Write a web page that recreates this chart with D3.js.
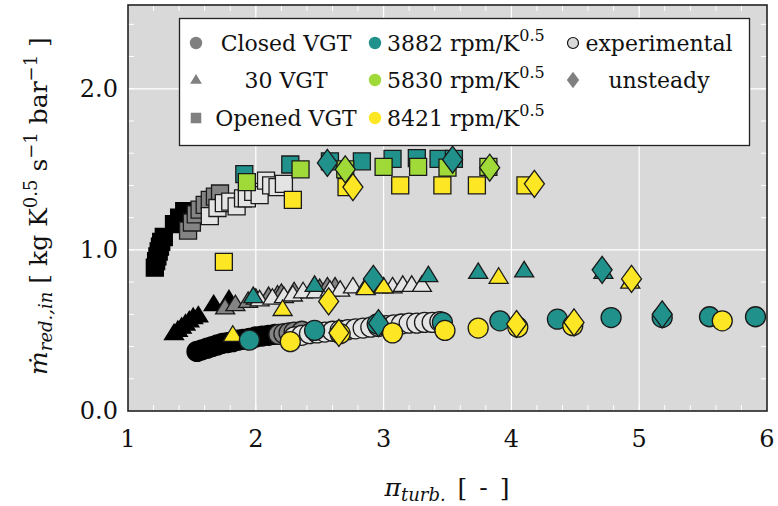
<!DOCTYPE html>
<html>
<head>
<meta charset="utf-8">
<script src="https://cdn.jsdelivr.net/npm/d3@7"></script>
<style>
  html, body { margin: 0; padding: 0; background: #fff; }
  svg { display: block; }
  text { font-family: "DejaVu Serif", "Liberation Serif", serif; fill: #111; }
</style>
</head>
<body>
<svg id="chart" width="778" height="506"></svg>
<script>
// ---- Axis ticks ----
const xTicks = [1, 2, 3, 4, 5, 6];
const yTicks = [0.0, 1.0, 2.0];
const yTickLabels = ["0.0", "1.0", "2.0"];

// ---- Experimental data, grey scale runs (pi_turb, m_red) ----
const closedBlack = [[1.54,0.37],[1.58,0.38],[1.62,0.39],[1.66,0.40],[1.70,0.41],[1.74,0.42],[1.78,0.425],[1.82,0.43],[1.86,0.44],[1.90,0.445],[1.95,0.45],[2.00,0.46],[2.05,0.465],[2.10,0.47],[2.15,0.475]];
const closedGrey = [[2.18,0.475],[2.22,0.48],[2.26,0.485],[2.30,0.49],[2.36,0.495]];
const closedLight = [[2.30,0.46],[2.36,0.47],[2.42,0.48],[2.48,0.485],[2.54,0.49],[2.60,0.495],[2.66,0.50],[2.72,0.505],[2.78,0.51],[2.84,0.515],[2.90,0.52],[2.96,0.525],[3.02,0.53],[3.08,0.535],[3.14,0.54],[3.20,0.545],[3.26,0.545],[3.32,0.55],[3.38,0.55],[3.44,0.555]];

const midBlack = [[1.36,0.48],[1.39,0.50],[1.42,0.52],[1.45,0.54],[1.48,0.56],[1.51,0.58],[1.55,0.59],[1.67,0.66],[1.79,0.69]];
const midGrey = [[1.76,0.64],[1.84,0.66],[1.94,0.68],[2.00,0.70],[2.10,0.71],[2.17,0.72],[2.20,0.73],[2.30,0.74],[2.50,0.76],[2.56,0.77],[2.62,0.77]];
const midLight = [[2.03,0.69],[2.13,0.70],[2.22,0.71],[2.29,0.72],[2.37,0.74],[2.47,0.74],[2.58,0.75],[2.66,0.75],[2.76,0.77],[2.86,0.77],[2.96,0.77],[3.07,0.77],[3.15,0.78],[3.22,0.78],[3.30,0.78]];

const openBlack = [[1.21,0.89],[1.22,0.93],[1.23,0.96],[1.24,0.99],[1.25,1.02],[1.26,1.05],[1.28,1.08],[1.36,1.16],[1.40,1.20],[1.44,1.24]];
const openGrey = [[1.47,1.12],[1.50,1.17],[1.53,1.22],[1.56,1.25],[1.60,1.28],[1.64,1.31],[1.68,1.33],[1.72,1.35]];
const openLight = [[1.64,1.21],[1.70,1.26],[1.75,1.29],[1.80,1.30],[1.85,1.27],[1.90,1.32],[1.93,1.32],[1.98,1.36],[2.03,1.34],[2.08,1.43],[2.12,1.40],[2.17,1.39],[2.22,1.41]];

// ---- Experimental data, coloured speed lines ----
const closed3882 = [[1.95,0.44],[2.46,0.50],[2.95,0.54],[3.46,0.55],[3.91,0.56],[4.36,0.57],[4.78,0.58],[5.18,0.58],[5.55,0.585],[5.91,0.585]];
const closed8421 = [[2.27,0.43],[2.66,0.48],[3.07,0.485],[3.48,0.50],[3.74,0.515],[4.05,0.52],[4.48,0.53],[5.65,0.56]];
const mid3882 = [[1.98,0.71],[2.46,0.78],[2.93,0.80],[3.35,0.84],[3.74,0.86],[4.10,0.87],[4.72,0.86]];
const mid8421 = [[1.82,0.47],[2.21,0.63],[2.86,0.76],[3.00,0.77],[3.90,0.83],[4.93,0.80]];
const open3882 = [[1.91,1.47],[2.27,1.53],[2.58,1.55],[2.83,1.55],[3.07,1.565],[3.26,1.57],[3.43,1.565],[3.55,1.565]];
const open5830 = [[1.93,1.42],[2.35,1.50],[2.70,1.50],[3.00,1.515],[3.27,1.515],[3.50,1.51],[3.82,1.515]];
const open8421 = [[1.75,0.925],[2.29,1.31],[2.71,1.39],[3.13,1.40],[3.46,1.40],[3.73,1.40],[4.11,1.40]];

// ---- Unsteady simulation points ----
const unsteady3882 = [[2.96,0.545],[5.18,0.60],[2.92,0.82],[4.71,0.876],[2.56,1.54],[3.54,1.56]];
const unsteady5830 = [[2.70,1.50],[3.83,1.51]];
const unsteady8421 = [[2.65,0.485],[4.04,0.54],[4.49,0.55],[2.57,0.68],[4.94,0.82],[2.76,1.39],[4.18,1.41]];

// ---- Legend entries ----
const legendShapes = [["circle","Closed VGT"],["triangle","30 VGT"],["square","Opened VGT"]];
const legendSpeeds = ["3882","5830","8421"];
const legendKinds = [["circle","experimental"],["diamond","unsteady"]];

// ---- Colours ----
const cTeal = "#21918c", cLime = "#a0da39", cYellow = "#fde725";
const cBlack = "#000000", cGrey = "#848484", cLight = "#e4e4e4";
const speedColors = [cTeal, cLime, cYellow];

const svg = d3.select("#chart");
const pLeft = 128, pRight = 767, pTop = 5, pBottom = 411;

const x = d3.scaleLinear().domain([1, 6]).range([pLeft, pRight]);
const y = d3.scaleLinear().domain([0, 2.52]).range([pBottom, pTop]);

// marker outlines
function shapePath(type, s) {
  const k = s || 1;
  if (type === "circle") {
    const r = 10 * k;
    return `M${-r},0A${r},${r} 0 1,0 ${r},0A${r},${r} 0 1,0 ${-r},0Z`;
  }
  if (type === "square") {
    const h = 8.5 * k;
    return `M${-h},${-h}H${h}V${h}H${-h}Z`;
  }
  if (type === "triangle") {
    const w = 9.5 * k, t = 9.5 * k, b = 6 * k;
    return `M0,${-t}L${w},${b}L${-w},${b}Z`;
  }
  if (type === "diamond") {
    const w = 10 * k, h = 13.5 * k;
    return `M0,${-h}L${w},0L0,${h}L${-w},0Z`;
  }
}

// plot background
svg.append("rect").attr("x", pLeft).attr("y", pTop)
  .attr("width", pRight - pLeft).attr("height", pBottom - pTop)
  .attr("fill", "#d9d9d9");

// grid lines at major ticks
const grid = svg.append("g");
grid.selectAll("line.gx").data(xTicks.slice(1, -1)).join("line")
  .attr("x1", d => x(d)).attr("x2", d => x(d))
  .attr("y1", pTop).attr("y2", pBottom)
  .attr("stroke", "#fff").attr("stroke-width", 1.2);
grid.selectAll("line.gy").data([1.0, 2.0]).join("line")
  .attr("x1", pLeft).attr("x2", pRight)
  .attr("y1", d => y(d)).attr("y2", d => y(d))
  .attr("stroke", "#fff").attr("stroke-width", 1.2);

// minor ticks inside the frame, on all four sides
const xMinor = d3.range(1.2, 6.0, 0.2).map(v => +v.toFixed(1));
const yMinor = d3.range(0.2, 2.5, 0.2).map(v => +v.toFixed(1));
const tl = 6;
const ticks = svg.append("g").attr("stroke", "#fff").attr("stroke-width", 1);
xMinor.forEach(v => {
  ticks.append("line").attr("x1", x(v)).attr("x2", x(v)).attr("y1", pBottom).attr("y2", pBottom - tl);
  ticks.append("line").attr("x1", x(v)).attr("x2", x(v)).attr("y1", pTop).attr("y2", pTop + tl);
});
yMinor.forEach(v => {
  ticks.append("line").attr("x1", pLeft).attr("x2", pLeft + tl).attr("y1", y(v)).attr("y2", y(v));
  ticks.append("line").attr("x1", pRight).attr("x2", pRight - tl).attr("y1", y(v)).attr("y2", y(v));
});

// data layers
const plot = svg.append("g");
function drawSeries(data, type, fill, stroke) {
  plot.append("g").selectAll("path").data(data).join("path")
    .attr("transform", d => `translate(${x(d[0])},${y(d[1])})`)
    .attr("d", shapePath(type))
    .attr("fill", fill)
    .attr("stroke", stroke)
    .attr("stroke-width", 1.3);
}
const edge = "#1a1a1a";

// grey scale experimental runs
drawSeries(openBlack, "square", cBlack, cBlack);
drawSeries(openGrey, "square", cGrey, edge);
drawSeries(openLight, "square", cLight, edge);
drawSeries(midBlack, "triangle", cBlack, cBlack);
drawSeries(midGrey, "triangle", cGrey, edge);
drawSeries(midLight, "triangle", cLight, edge);
drawSeries(closedBlack, "circle", cBlack, cBlack);
drawSeries(closedGrey, "circle", cGrey, edge);
drawSeries(closedLight, "circle", cLight, edge);

// coloured experimental points
drawSeries(open3882, "square", cTeal, edge);
drawSeries(open5830, "square", cLime, edge);
drawSeries(open8421, "square", cYellow, edge);
drawSeries(mid3882, "triangle", cTeal, edge);
drawSeries(mid8421, "triangle", cYellow, edge);
drawSeries(closed3882, "circle", cTeal, edge);

// unsteady results
drawSeries(unsteady3882, "diamond", cTeal, edge);
drawSeries(closed8421, "circle", cYellow, edge);
drawSeries(unsteady5830, "diamond", cLime, edge);
drawSeries(unsteady8421, "diamond", cYellow, edge);

// frame
svg.append("rect").attr("x", pLeft).attr("y", pTop)
  .attr("width", pRight - pLeft).attr("height", pBottom - pTop)
  .attr("fill", "none").attr("stroke", "#222").attr("stroke-width", 1.6);

// tick labels
svg.append("g").selectAll("text").data(xTicks).join("text")
  .attr("x", d => x(d)).attr("y", 447)
  .attr("text-anchor", "middle").attr("font-size", 24)
  .text(d => d);
svg.append("g").selectAll("text").data(yTicks).join("text")
  .attr("x", 118).attr("y", d => y(d) + 8)
  .attr("text-anchor", "end").attr("font-size", 24)
  .text((d, i) => yTickLabels[i]);

// x axis title
const xt = svg.append("text").attr("x", 447).attr("y", 496)
  .attr("text-anchor", "middle").attr("font-size", 25)
  .attr("word-spacing", 4);
xt.append("tspan").attr("font-style", "italic").text("π");
xt.append("tspan").attr("font-style", "italic").attr("font-size", 18).attr("dy", 5).text("turb.");
xt.append("tspan").attr("dy", -5).text(" [ - ]");

// y axis title
const yt = svg.append("text")
  .attr("transform", "translate(47,206) rotate(-90)")
  .attr("text-anchor", "middle").attr("font-size", 25);
yt.append("tspan").attr("font-style", "italic").text("ṁ");
yt.append("tspan").attr("font-style", "italic").attr("font-size", 18).attr("dy", 5).text("red.,in");
yt.append("tspan").attr("dy", -5).text("  [ kg K");
yt.append("tspan").attr("font-size", 18).attr("dy", -10).text("0.5");
yt.append("tspan").attr("dy", 10).text(" s");
yt.append("tspan").attr("font-size", 18).attr("dy", -10).text("−1");
yt.append("tspan").attr("dy", 10).text(" bar");
yt.append("tspan").attr("font-size", 18).attr("dy", -10).text("−1");
yt.append("tspan").attr("dy", 10).text(" ]");

// legend
const lg = svg.append("g");
lg.append("rect").attr("x", 179.5).attr("y", 18.5).attr("width", 570).attr("height", 127)
  .attr("fill", "#fff").attr("stroke", "#222").attr("stroke-width", 1.3);
const rowY = [43, 80, 118];
legendShapes.forEach((e, i) => {
  lg.append("path").attr("transform", `translate(196,${rowY[i]})`)
    .attr("d", shapePath(e[0], 0.62)).attr("fill", "#808080");
  lg.append("text").attr("x", 286).attr("y", rowY[i] + 8)
    .attr("text-anchor", "middle").attr("font-size", 22).text(e[1]);
});
legendSpeeds.forEach((s, i) => {
  lg.append("path").attr("transform", `translate(375,${rowY[i]})`)
    .attr("d", shapePath("circle", 0.62)).attr("fill", speedColors[i]);
  const t = lg.append("text").attr("x", 387).attr("y", rowY[i] + 8).attr("font-size", 22);
  t.append("tspan").text(s + " rpm/K");
  t.append("tspan").attr("font-size", 16).attr("dy", -10).text("0.5");
});
legendKinds.forEach((e, i) => {
  const isExp = i === 0;
  lg.append("path").attr("transform", `translate(573,${rowY[i]})`)
    .attr("d", shapePath(e[0], isExp ? 0.55 : 0.62))
    .attr("fill", isExp ? "#d9d9d9" : "#808080")
    .attr("stroke", isExp ? "#111" : "none").attr("stroke-width", 1.2);
  lg.append("text").attr("x", 659).attr("y", rowY[i] + 8)
    .attr("text-anchor", "middle").attr("font-size", 22).text(e[1]);
});
</script>
</body>
</html>
